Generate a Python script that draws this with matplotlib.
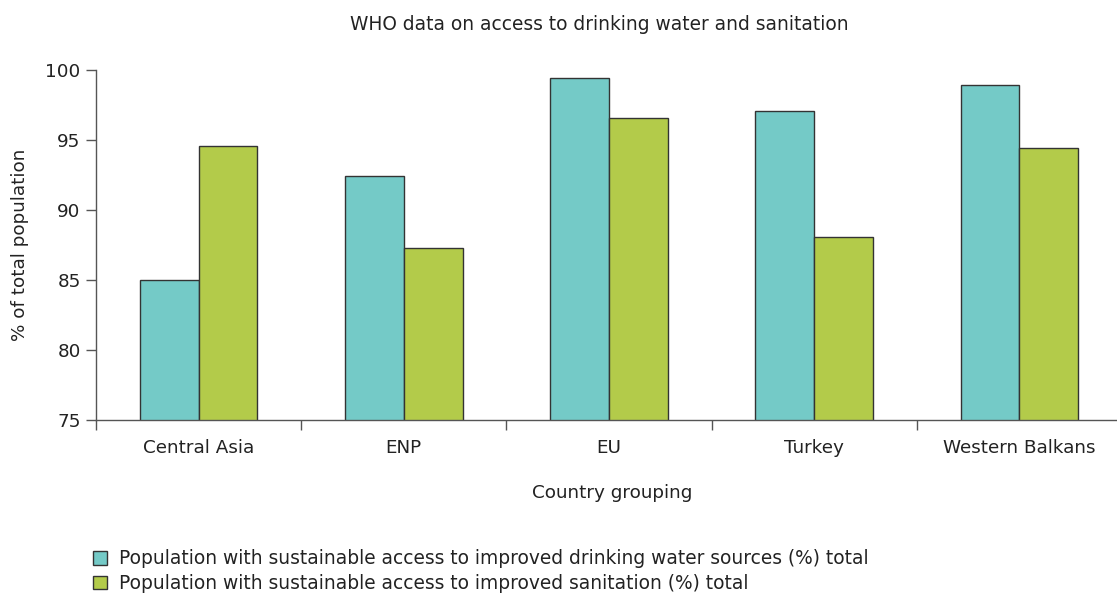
import matplotlib
matplotlib.use("Agg")
import matplotlib.pyplot as plt
import numpy as np
from matplotlib.patches import Patch

categories = ["Central Asia", "ENP", "EU", "Turkey", "Western Balkans"]
water = [85.0, 92.4, 99.4, 97.1, 98.9]
sanitation = [94.6, 87.3, 96.6, 88.1, 94.4]
series_names = [
    "Population with sustainable access to improved drinking water sources (%) total",
    "Population with sustainable access to improved sanitation (%) total",
]
yticks = [75, 80, 85, 90, 95, 100]

teal = "#74CAC7"
green = "#B3CB4A"
edge = "#333333"
axis_col = "#555555"
txt = "#222222"
fs = 13.2
fs_big = 13.4

plt.rcParams["font.family"] = ["DejaVu Sans"]

W, H = 1117, 594
fig = plt.figure(figsize=(W / 100, H / 100), dpi=100)
ax_w = 1026
ax = fig.add_axes([96 / W, 1 - 420 / H, ax_w / W, 350 / H])

x = np.arange(len(categories))
bw = 0.287
ax.bar(x - bw / 2, water, bw, color=teal, edgecolor=edge, linewidth=1.0)
ax.bar(x + bw / 2, sanitation, bw, color=green, edgecolor=edge, linewidth=1.0)

ax.set_ylim(75, 100)
ax.set_xlim(-0.5, 4.5)
ax.set_yticks(yticks)
ax.set_yticklabels([str(t) for t in yticks], fontsize=fs, color=txt)
ax.set_xticks(x)
ax.set_xticklabels(categories, fontsize=fs, color=txt)
ax.tick_params(axis="x", length=0, pad=14)
ax.set_xticks(np.arange(-0.5, 4.6, 1.0), minor=True)
ax.tick_params(axis="x", which="minor", length=7, width=1, color=axis_col, direction="out")
ax.tick_params(axis="y", length=7, width=1, color=axis_col, direction="out", pad=4)

for s in ["top", "right"]:
    ax.spines[s].set_visible(False)
for s in ["left", "bottom"]:
    ax.spines[s].set_color(axis_col)
    ax.spines[s].set_linewidth(1.0)

ax.set_ylabel("% of total population", fontsize=fs, color=txt)
ax.yaxis.set_label_coords((20 - 96) / ax_w, 0.5)
ax.set_xlabel("Country grouping", fontsize=fs, color=txt)
ax.xaxis.set_label_coords((612 - 96) / ax_w, -(493 - 420) / 350)
ax.xaxis.label.set_va("center")
ax.yaxis.label.set_va("center")

fig.text(599 / W, 1 - 24 / H, "WHO data on access to drinking water and sanitation",
         ha="center", va="center", fontsize=fs_big, color=txt)

handles = [Patch(facecolor=teal, edgecolor=edge), Patch(facecolor=green, edgecolor=edge)]
fig.legend(handles, series_names, loc="upper left", bbox_to_anchor=(86 / W, 1 - 542 / H),
           frameon=False, fontsize=fs_big, handlelength=0.75, handleheight=0.75,
           handletextpad=0.6, labelspacing=0.3, labelcolor=txt, borderaxespad=0)

fig.savefig("out.png", dpi=100)
